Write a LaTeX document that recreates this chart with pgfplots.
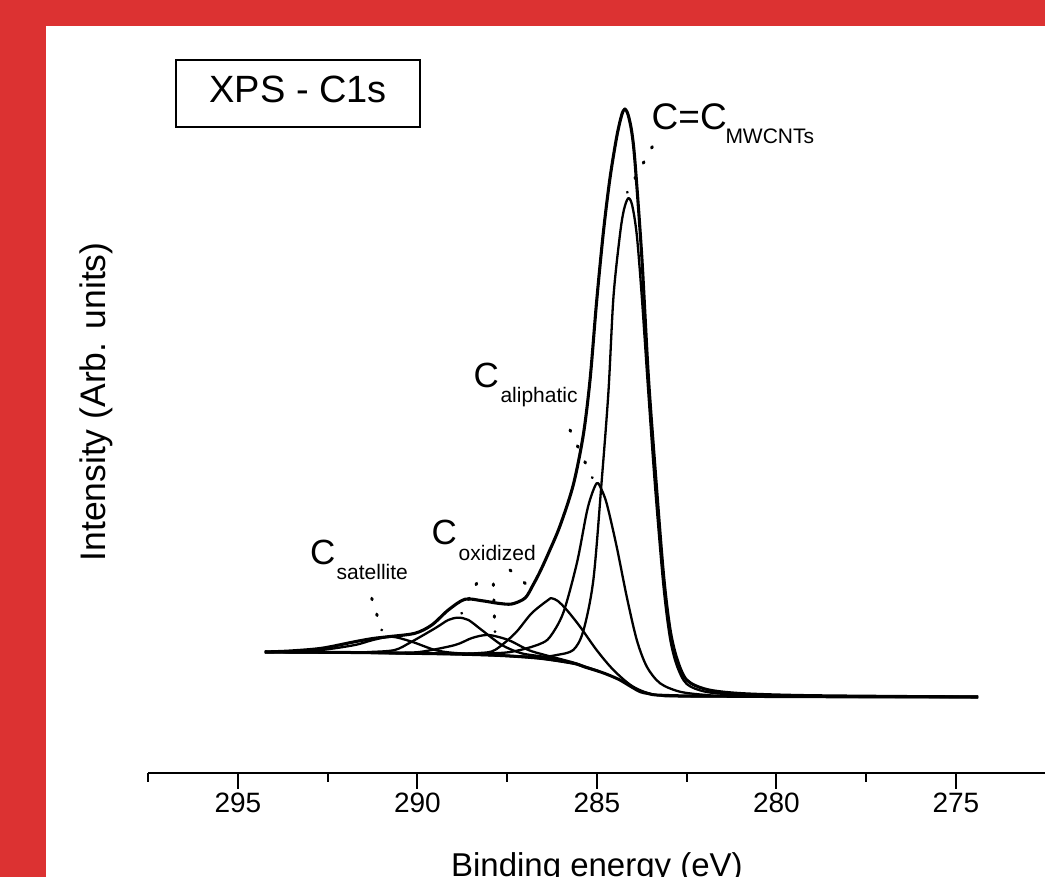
\documentclass[border=0pt]{standalone}
\usepackage{fontspec}
\setmainfont{Liberation Sans}
\usepackage{pgfplots}
\pgfplotsset{compat=1.18}
\definecolor{frame}{RGB}{220,50,50}
\newcommand\fs[1]{\fontsize{#1}{#1}\selectfont}
\begin{document}
\begin{tikzpicture}[x=1pt,y=1pt]
\useasboundingbox (0,0) rectangle (1045,877);
\fill[frame] (0,0) rectangle (1045,877);
\fill[white] (45.7,0) rectangle (1045,851.3);
\begin{axis}[
  at={(148.2pt,104pt)}, anchor=south west,
  scale only axis, width=897.5pt, height=747pt,
  xmin=272.5, xmax=297.5, ymin=-76, ymax=671,
  x dir=reverse,
  axis x line=bottom, axis y line=none,
  x axis line style={-, line width=2.6pt, black},
  xtick={275,280,285,290,295},
  minor xtick={272.5,277.5,282.5,287.5,292.5,297.5},
  tick align=outside,
  major tick length=16pt, minor tick length=9pt,
  tick style={line width=2pt, black},
  ytick=\empty,
  /pgf/number format/assume math mode=true,
  xticklabel style={font=\fs{28}},
  xlabel={Binding energy (eV)},
  xlabel style={at={(axis description cs:0.5,0)}, anchor=base, yshift=-104pt, font=\fs{33}},
  every axis plot/.append style={black, smooth, line join=round},
]
% Shirley background
\addplot[line width=3pt] coordinates {
(294.25,45) (291.88,44.5) (289.09,43) (287.70,41.5) (286.59,38.7) (285.66,33.7) (285.34,30) (284.92,25.3) (284.64,21.5) (284.36,17) (284.08,11) (283.80,5.3) (283.58,3.5) (283.34,2) (282.41,1) (281.02,0.7) (279.34,0.3) (274.38,0)
};
% satellite
\addplot[line width=2.3pt] coordinates {
(294.25,45) (293.55,45.5) (292.67,47) (291.74,52) (291.24,57) (290.72,60.3) (290.16,55.3) (289.51,47) (288.95,44) (287.70,41.5) (286.59,38.7) (285.66,33.7)
};
% 288.9 component
\addplot[line width=2.3pt] coordinates {
(294.25,45) (291.88,44.6) (291.32,45) (290.63,47) (290.16,55.3) (289.51,68.7) (289.14,77) (288.86,79.3) (288.58,77) (288.21,67) (287.65,52) (287.10,43.7) (286.45,40) (285.66,33.7) (285.34,30) (284.92,25.3)
};
% 288.0 component
\addplot[line width=2.3pt] coordinates {
(294.25,45) (291.88,44.5) (290.49,44.3) (289.88,45.3) (288.95,52) (288.48,59) (288.03,62) (287.47,57) (286.91,47) (286.45,42) (285.66,34.5) (285.34,30.5) (284.92,25.5)
};
% 286.3 component
\addplot[line width=2.3pt] coordinates {
(294.25,45) (291.88,44.5) (289.09,43.2) (288.26,44) (287.84,47) (287.28,63.7) (286.82,83.7) (286.36,97) (286.26,98.7) (286.09,96) (285.84,87) (285.47,70.3) (285.01,47) (284.54,27) (283.99,10.3) (283.34,2) (282.13,0.5) (274.38,0)
};
% aliphatic
\addplot[line width=2.3pt] coordinates {
(294.25,45) (291.88,44.5) (289.09,43.5) (287.70,44) (287.14,47) (286.59,53) (286.31,60) (285.94,84) (285.56,133.7) (285.29,183.7) (285.15,202) (285.01,213.7) (284.92,211) (284.73,193.7) (284.45,150.3) (284.17,100.3) (283.89,57) (283.61,30.3) (283.24,13.7) (282.69,5.3) (281.94,2) (281.02,1) (274.38,0)
};
% C=C MWCNTs
\addplot[line width=2.3pt] coordinates {
(294.25,45) (291.88,44.5) (289.09,43) (287.70,41.5) (286.59,40) (286.12,42) (285.66,47) (285.38,66) (285.10,117) (284.87,215) (284.68,305) (284.54,400) (284.36,462) (284.25,487) (284.13,498.7) (284.02,492) (283.89,462) (283.75,400) (283.57,305) (283.38,210) (283.15,112) (282.97,60) (282.78,32) (282.50,13) (281.94,5) (281.02,2.3) (279.34,1) (274.38,0)
};
% envelope
\addplot[line width=3.1pt] coordinates {
(294.25,45) (293.55,46) (292.67,48.7) (291.74,55.3) (291.24,58.5) (290.81,60.3) (290.07,63.7) (289.60,72) (289.14,87) (288.68,97.7) (288.21,96.3) (287.75,93.7) (287.37,93) (287.00,99) (286.78,112) (286.59,125) (286.36,143) (286.03,171) (285.66,212) (285.38,262) (285.19,318) (285.01,395) (284.82,465) (284.64,518) (284.45,560) (284.31,582) (284.22,588) (284.13,582) (284.03,565) (283.94,535) (283.75,440) (283.57,322) (283.38,228) (283.15,124) (282.97,69) (282.78,39) (282.50,17) (281.94,7.5) (281.02,3.5) (279.34,1.5) (276.56,0.5) (274.38,0)
};
\end{axis}
% y-axis label
\node[rotate=90, anchor=base, inner sep=0pt, font=\fs{35.5}] at (105,475) {Intensity (Arb. units)};
% title box
\draw[line width=2pt] (175.7,816.7) rectangle (420,750);
\node[anchor=base, inner sep=0pt, font=\fs{38}] at (298.3,774.3) {XPS - C1s};
% peak labels
\node[anchor=base west, inner sep=0pt, font=\fs{37}] at (651.5,747.7) {C=C};
\node[anchor=base west, inner sep=0pt, font=\fs{21}] at (725.3,733.7) {MWCNTs};
\node[anchor=base west, inner sep=0pt, font=\fs{35}] at (473.3,489.7) {C};
\node[anchor=base west, inner sep=0pt, font=\fs{21}] at (500.3,474.3) {aliphatic};
\node[anchor=base west, inner sep=0pt, font=\fs{35}] at (431.5,332) {C};
\node[anchor=base west, inner sep=0pt, font=\fs{21}] at (458.5,316) {oxidized};
\node[anchor=base west, inner sep=0pt, font=\fs{35}] at (310,312) {C};
\node[anchor=base west, inner sep=0pt, font=\fs{21}] at (336.5,297.7) {satellite};
% dotted leaders
\begin{scope}[line width=3pt, line cap=round]
\draw[dash pattern=on 1.5pt off 15.8pt] (652.3,730.3) -- (627.3,684.7);
\draw[dash pattern=on 1.5pt off 16pt] (570,447) -- (592.3,399.3);
\draw[dash pattern=on 1.5pt off 15.2pt] (476.7,293.7) -- (461.7,263.7);
\draw[dash pattern=on 1.5pt off 14.4pt] (493.3,293) -- (495,245.3);
\draw[dash pattern=on 1.5pt off 17.4pt] (510,307) -- (538.3,282);
\draw[dash pattern=on 1.5pt off 15.1pt] (371.7,278.7) -- (381.7,247);
\end{scope}
\end{tikzpicture}
\end{document}
